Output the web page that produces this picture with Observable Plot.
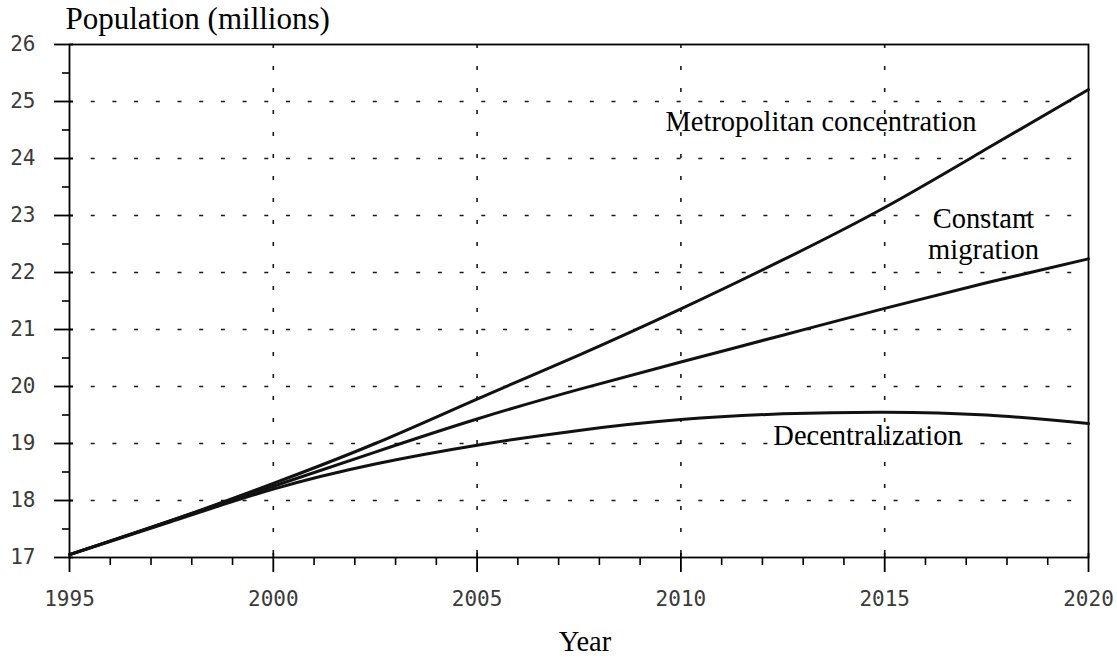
<!DOCTYPE html>
<html>
<head>
<meta charset="utf-8">
<script src="https://cdn.jsdelivr.net/npm/d3@7"></script>
<script src="https://cdn.jsdelivr.net/npm/@observablehq/plot@0.6"></script>
<style>
  html, body { margin: 0; padding: 0; background: white; }
</style>
</head>
<body>
<div id="chart"></div>
<script>
// ---- data ----
const years = [1995, 1997.5, 2000, 2002.5, 2005, 2007.5, 2010, 2012.5, 2015, 2017.5, 2020];
const metropolitan = [17.05, 17.65, 18.3, 19.0, 19.78, 20.55, 21.36, 22.22, 23.14, 24.17, 25.21];
const constantMigration = [17.05, 17.65, 18.25, 18.85, 19.43, 19.95, 20.43, 20.9, 21.37, 21.82, 22.24];
const decentralization = [17.05, 17.63, 18.2, 18.64, 18.97, 19.23, 19.42, 19.52, 19.55, 19.5, 19.35];

const seriesNames = ["Metropolitan concentration", "Constant\nmigration", "Decentralization"];
const seriesValues = [metropolitan, constantMigration, decentralization];

const xMajorTicks = [1995, 2000, 2005, 2010, 2015, 2020];
const xMinorTicks = d3.range(1995, 2021, 1).filter(d => d % 5 !== 0);
const yMajorTicks = d3.range(17, 27, 1);
const yMinorTicks = d3.range(17.5, 26, 1);
const xGrid = [2000, 2005, 2010, 2015];
const yGrid = [18, 19, 20, 21, 22, 23, 24, 25];

const titleText = "Population (millions)";
const xLabelText = "Year";

// ---- build table ----
const rows = [];
seriesNames.forEach((name, i) => {
  years.forEach((yr, j) => rows.push({series: name, year: yr, value: seriesValues[i][j]}));
});
const ends = seriesNames.map((name, i) => ({series: name, year: years[years.length - 1], value: seriesValues[i][years.length - 1]}));

const W = 1117, H = 658, mT = 44, mL = 69, mR = 29, mB = 101;
const plotW = W - mL - mR, plotH = H - mT - mB;
const serif = "'Liberation Serif', 'Times New Roman', serif";
const tickFont = "'DejaVu Sans Mono', monospace";

const labelOffsets = [
  {dx: -112, dy: 32, anchor: "end"},
  {dx: -105, dy: -25, anchor: "middle"},
  {dx: -221, dy: 12, anchor: "middle"}
];

const chart = Plot.plot({
  width: W,
  height: H,
  marginTop: mT,
  marginLeft: mL,
  marginRight: mR,
  marginBottom: mB,
  style: {background: "white", overflow: "visible"},
  x: {domain: [1995, 2020]},
  y: {domain: [17, 26]},
  marks: [
    Plot.gridX(xGrid, {stroke: "black", strokeOpacity: 0.9, strokeWidth: 1.6, strokeDasharray: "4,18"}),
    Plot.gridY(yGrid, {stroke: "black", strokeOpacity: 0.9, strokeWidth: 1.6, strokeDasharray: "4,17.7"}),
    Plot.frame({stroke: "black", strokeWidth: 1.8}),
    // outward major ticks + labels
    Plot.axisX(xMajorTicks, {tickSize: 15, tickPadding: 19, tickFormat: d => String(d), fontSize: 21, fontFamily: tickFont, fill: "#3a3a3a", stroke: "black", strokeWidth: 1.8, label: null}),
    Plot.axisX(xMinorTicks, {tickSize: 8, text: null, stroke: "black", strokeWidth: 1.6, label: null}),
    Plot.axisY(yMajorTicks, {tickSize: 15, tickPadding: 19, tickFormat: d => String(d), fontSize: 21, fontFamily: tickFont, fill: "#3a3a3a", stroke: "black", strokeWidth: 1.8, label: null}),
    Plot.axisY(yMinorTicks, {tickSize: 7, text: null, stroke: "black", strokeWidth: 1.6, label: null}),
    // small inward extension of major ticks
    Plot.tickX(xMajorTicks, {x: d => d, insetTop: plotH - 4, stroke: "black", strokeWidth: 1.8}),
    Plot.tickY(yMajorTicks, {y: d => d, insetRight: plotW - 4, stroke: "black", strokeWidth: 1.8}),
    // series
    Plot.line(rows, {x: "year", y: "value", z: "series", curve: "natural", stroke: "#111", strokeWidth: 3}),
    // series labels
    ...ends.map((e, i) => Plot.text([e], {
      x: "year", y: "value", text: "series",
      dx: labelOffsets[i].dx, dy: labelOffsets[i].dy,
      textAnchor: labelOffsets[i].anchor, lineAnchor: "middle", lineHeight: 1.07,
      fontSize: 28.5, fontFamily: serif, fill: "black"
    })),
    // title and x label
    Plot.text([titleText], {frameAnchor: "top-left", text: d => d, dx: -4, dy: -25, textAnchor: "start", lineAnchor: "middle", fontSize: 31, fontFamily: serif, fill: "black"}),
    Plot.text([xLabelText], {frameAnchor: "bottom", text: d => d, dx: 6, dy: 84, textAnchor: "middle", lineAnchor: "middle", fontSize: 28.5, fontFamily: serif, fill: "black"})
  ]
});
document.getElementById("chart").appendChild(chart);
</script>
</body>
</html>
